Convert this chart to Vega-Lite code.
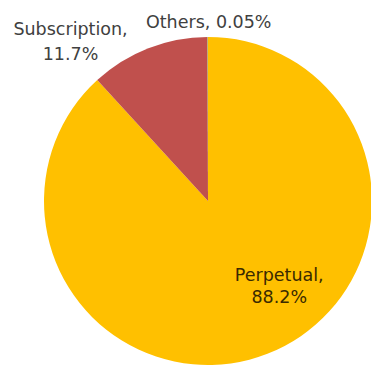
{
  "$schema": "https://vega.github.io/schema/vega-lite/v6.json",
  "width": 416,
  "height": 402,
  "padding": 0,
  "autosize": {"type": "none"},
  "background": "white",
  "view": {"stroke": null},
  "data": {"values": [
    {"category": "Perpetual", "share": 88.2, "label": "Perpetual,\n88.2%"},
    {"category": "Subscription", "share": 11.75, "label": "Subscription,\n11.7%"},
    {"category": "Others", "share": 0.05, "label": "Others, 0.05%"}
  ]},
  "encoding": {
    "theta": {"field": "share", "type": "quantitative", "stack": true},
    "order": {"field": "o", "type": "quantitative"}
  },
  "transform": [{"calculate": "datum.category === 'Perpetual' ? 0 : datum.category === 'Subscription' ? 1 : 2", "as": "o"}],
  "layer": [
    {
      "mark": {"type": "arc", "radius": 164},
      "encoding": {
        "color": {"field": "category", "type": "nominal", "legend": null,
          "scale": {"domain": ["Perpetual", "Subscription", "Others"], "range": ["#FFC000", "#C0504D", "#9BBB59"]}}
      }
    },
    {
      "mark": {"type": "text", "radius": 100, "dx": 35, "dy": -18, "fontSize": 17.5, "lineHeight": 22, "font": "DejaVu Sans", "lineBreak": "\n", "color": "#3a2a00"},
      "encoding": {"text": {"condition": {"test": "datum.category === 'Perpetual'", "field": "label"}, "value": ""}}
    },
    {
      "mark": {"type": "text", "radius": 180, "dx": -72, "dy": -3, "fontSize": 17.5, "lineHeight": 25, "font": "DejaVu Sans", "lineBreak": "\n", "color": "#404040"},
      "encoding": {"text": {"condition": {"test": "datum.category === 'Subscription'", "field": "label"}, "value": ""}}
    },
    {
      "mark": {"type": "text", "radius": 181, "dx": 1, "dy": 3, "fontSize": 17.5, "font": "DejaVu Sans", "lineBreak": "\n", "color": "#404040"},
      "encoding": {"text": {"condition": {"test": "datum.category === 'Others'", "field": "label"}, "value": ""}}
    }
  ]
}
